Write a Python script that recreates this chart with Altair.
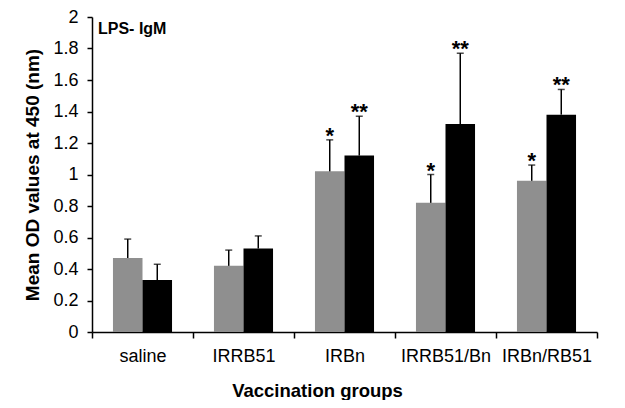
import altair as alt
import pandas as pd

groups = ["saline", "IRRB51", "IRBn", "IRRB51/Bn", "IRBn/RB51"]
series = ["Series 1", "Series 2"]
grey_vals = [0.47, 0.42, 1.02, 0.82, 0.96]
grey_tops = [0.59, 0.52, 1.22, 1.00, 1.06]
grey_sig = ["", "", "*", "*", "*"]
black_vals = [0.33, 0.53, 1.12, 1.32, 1.38]
black_tops = [0.43, 0.61, 1.37, 1.77, 1.54]
black_sig = ["", "", "**", "**", "**"]
y_ticks = [0, 0.2, 0.4, 0.6, 0.8, 1, 1.2, 1.4, 1.6, 1.8, 2]

rows = []
for i, g in enumerate(groups):
    rows.append(dict(group=g, series=series[0], value=grey_vals[i], top=grey_tops[i], sig=grey_sig[i]))
    rows.append(dict(group=g, series=series[1], value=black_vals[i], top=black_tops[i], sig=black_sig[i]))
df = pd.DataFrame(rows)

FONT = "Liberation Sans"

x = alt.X("group:N", sort=groups,
          scale=alt.Scale(paddingInner=0, paddingOuter=0),
          axis=alt.Axis(title="Vaccination groups", labelAngle=0, tickBand="extent",
                        tickSize=6, labelPadding=9, labelFontSize=18,
                        titleFontSize=18.5, titlePadding=16, titleX=225))
xo = alt.XOffset("series:N", sort=series,
                 scale=alt.Scale(paddingInner=0, paddingOuter=0.71))
y_scale = alt.Scale(domain=[0, 2])
y_axis = alt.Axis(title="Mean OD values at 450 (nm)", values=y_ticks, format="~g",
                  labelOverlap=False, tickSize=5, labelPadding=9, labelFontSize=18,
                  titleFontSize=19, titlePadding=10)
color = alt.Color("series:N", sort=series,
                  scale=alt.Scale(domain=series, range=["#8f8f8f", "#000000"]),
                  legend=None)

base = alt.Chart(df)
bars = base.mark_bar().encode(
    x=x, xOffset=xo,
    y=alt.Y("value:Q", scale=y_scale, axis=y_axis),
    color=color)
rules = base.mark_rule(color="black", strokeWidth=1.5).encode(
    x=x, xOffset=xo, y=alt.Y("value:Q", scale=y_scale, axis=y_axis), y2="top:Q")
caps = base.mark_tick(color="black", thickness=1.5, size=7).encode(
    x=x, xOffset=xo, y=alt.Y("top:Q", scale=y_scale, axis=y_axis))
stars = base.mark_text(font=FONT, fontSize=22, fontWeight="bold", baseline="alphabetic",
                       dy=3, color="black").encode(
    x=x, xOffset=xo, y=alt.Y("top:Q", scale=y_scale, axis=y_axis), text="sig:N")

chart = alt.layer(bars, rules, caps, stars).properties(
    width=505, height=315,
    autosize=alt.AutoSizeParams(type="none"),
    padding={"left": 84, "top": 9, "right": 20, "bottom": 68},
    title=alt.TitleParams("LPS- IgM", anchor="start", frame="group", fontSize=16,
                          fontWeight="bold", font=FONT, color="black",
                          baseline="alphabetic", offset=0, dx=6, dy=42),
).configure_view(stroke=None).configure_axis(
    grid=False, domainColor="black", domainWidth=1.5, tickColor="black", tickWidth=1.5,
    labelFont=FONT, titleFont=FONT, labelColor="black", titleColor="black",
    titleFontWeight="bold")

chart.save("out.html", embed_options={"renderer": "svg", "actions": False})
